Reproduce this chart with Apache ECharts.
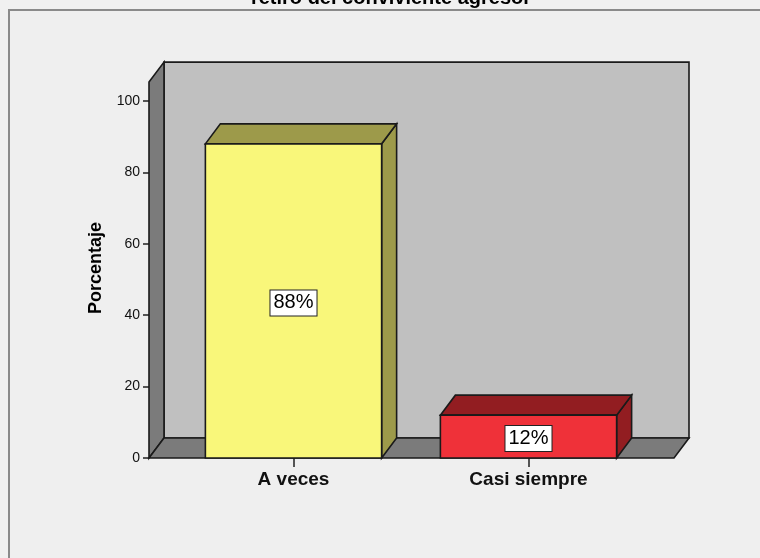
<!DOCTYPE html>
<html>
<head>
<meta charset="utf-8">
<script src="https://cdn.jsdelivr.net/npm/echarts@6/dist/echarts.min.js"></script>
<style>
  html, body { margin: 0; padding: 0; background: #f0f0f0; }
  #chart { width: 760px; height: 558px; }
</style>
</head>
<body>
<div id="chart"></div>
<script>
const categories = ['A veces', 'Casi siempre']
const percentages = [88, 12]
const yTicks = [0, 20, 40, 60, 80, 100]

const frontColors = ['#f9f77a', '#ef3139']
const darkColors = ['#9d9a4a', '#921d21']

// profundidad del efecto 3D (px)
const DX = 15
const DY = -20
const AXIS_OFFSET = 27
const EDGE = '#1a1a1a'

const chart = echarts.init(document.getElementById('chart'), null, { renderer: 'canvas' })

// caja 3D: pared del fondo, pared izquierda y suelo
function renderBox(params, api) {
  const cs = params.coordSys
  const base = api.coord([0, 0])[1]
  const top = api.coord([0, 105.3])[1]
  const L = cs.x - AXIS_OFFSET
  const R = cs.x + cs.width + 28
  const st = { stroke: EDGE, lineWidth: 1.6 }
  return {
    type: 'group',
    children: [
      { type: 'polygon', shape: { points: [[L + DX, top + DY], [R + DX, top + DY], [R + DX, base + DY], [L + DX, base + DY]] },
        style: Object.assign({ fill: '#c0c0c0' }, st) },
      { type: 'polygon', shape: { points: [[L, top], [L + DX, top + DY], [L + DX, base + DY], [L, base]] },
        style: Object.assign({ fill: '#7b7b7b' }, st) },
      { type: 'polygon', shape: { points: [[L, base], [L + DX, base + DY], [R + DX, base + DY], [R, base]] },
        style: Object.assign({ fill: '#7b7b7b' }, st) }
    ]
  }
}

function renderBar(params, api) {
  const i = params.dataIndex
  const v = api.value(1)
  const p0 = api.coord([api.value(0), 0])
  const p1 = api.coord([api.value(0), v])
  const w = api.size([1, 0])[0] * 0.75
  const x0 = p0[0] - w / 2
  const x1 = p0[0] + w / 2
  const yb = p0[1]
  const yt = p1[1]
  const st = { stroke: EDGE, lineWidth: 1.6 }
  return {
    type: 'group',
    children: [
      { type: 'polygon', shape: { points: [[x1, yt], [x1 + DX, yt + DY], [x1 + DX, yb + DY], [x1, yb]] },
        style: Object.assign({ fill: darkColors[i] }, st) },
      { type: 'polygon', shape: { points: [[x0, yt], [x1, yt], [x1 + DX, yt + DY], [x0 + DX, yt + DY]] },
        style: Object.assign({ fill: darkColors[i] }, st) },
      { type: 'rect', shape: { x: x0, y: yt, width: x1 - x0, height: yb - yt },
        style: Object.assign({ fill: frontColors[i] }, st) },
      { type: 'text', x: p0[0], y: (yt + yb) / 2 + 2,
        style: {
          text: v + '%', align: 'center', verticalAlign: 'middle',
          font: '20px "Liberation Sans", Arial, sans-serif', fill: '#000',
          backgroundColor: '#fff', borderColor: '#222', borderWidth: 1,
          padding: [3, 3, 2, 3]
        } }
    ]
  }
}

const option = {
  backgroundColor: '#f0f0f0',
  animation: false,
  graphic: [
    { type: 'rect', z: -10, shape: { x: 9, y: 10, width: 800, height: 600 },
      style: { fill: '#efefef', stroke: '#8a8a8a', lineWidth: 2 } },
    { type: 'text', x: 391, y: 8,
      style: { text: 'retiro del conviviente agresor', align: 'center', verticalAlign: 'bottom',
        font: 'bold 20px "Liberation Sans", Arial, sans-serif', fill: '#000' } },
    { type: 'text', x: 96, y: 268, rotation: Math.PI / 2,
      style: { text: 'Porcentaje', align: 'center', verticalAlign: 'middle',
        font: 'bold 18px "Liberation Sans", Arial, sans-serif', fill: '#000' } }
  ],
  grid: { left: 176, right: 114, top: 101, bottom: 100 },
  xAxis: {
    type: 'category',
    data: categories,
    axisLine: { show: false },
    axisTick: { show: true, alignWithLabel: true, length: 9, lineStyle: { color: '#222', width: 1.5 } },
    axisLabel: { margin: 12, color: '#111', fontSize: 19, fontWeight: 'bold', fontFamily: '"Liberation Sans", Arial, sans-serif' }
  },
  yAxis: {
    type: 'value',
    min: yTicks[0],
    max: yTicks[yTicks.length - 1],
    interval: yTicks[1] - yTicks[0],
    offset: AXIS_OFFSET,
    splitLine: { show: false },
    axisLine: { show: false },
    axisTick: { show: true, length: 6, lineStyle: { color: '#222', width: 1.5 } },
    axisLabel: { margin: 9, color: '#111', fontSize: 14, fontFamily: '"Liberation Sans", Arial, sans-serif' }
  },
  series: [
    { type: 'custom', clip: false, z: 1, renderItem: renderBox, data: [[0, 0]] },
    { type: 'custom', clip: false, z: 2, renderItem: renderBar,
      data: percentages.map((v, i) => [i, v]) }
  ]
}

chart.setOption(option)
</script>
</body>
</html>
